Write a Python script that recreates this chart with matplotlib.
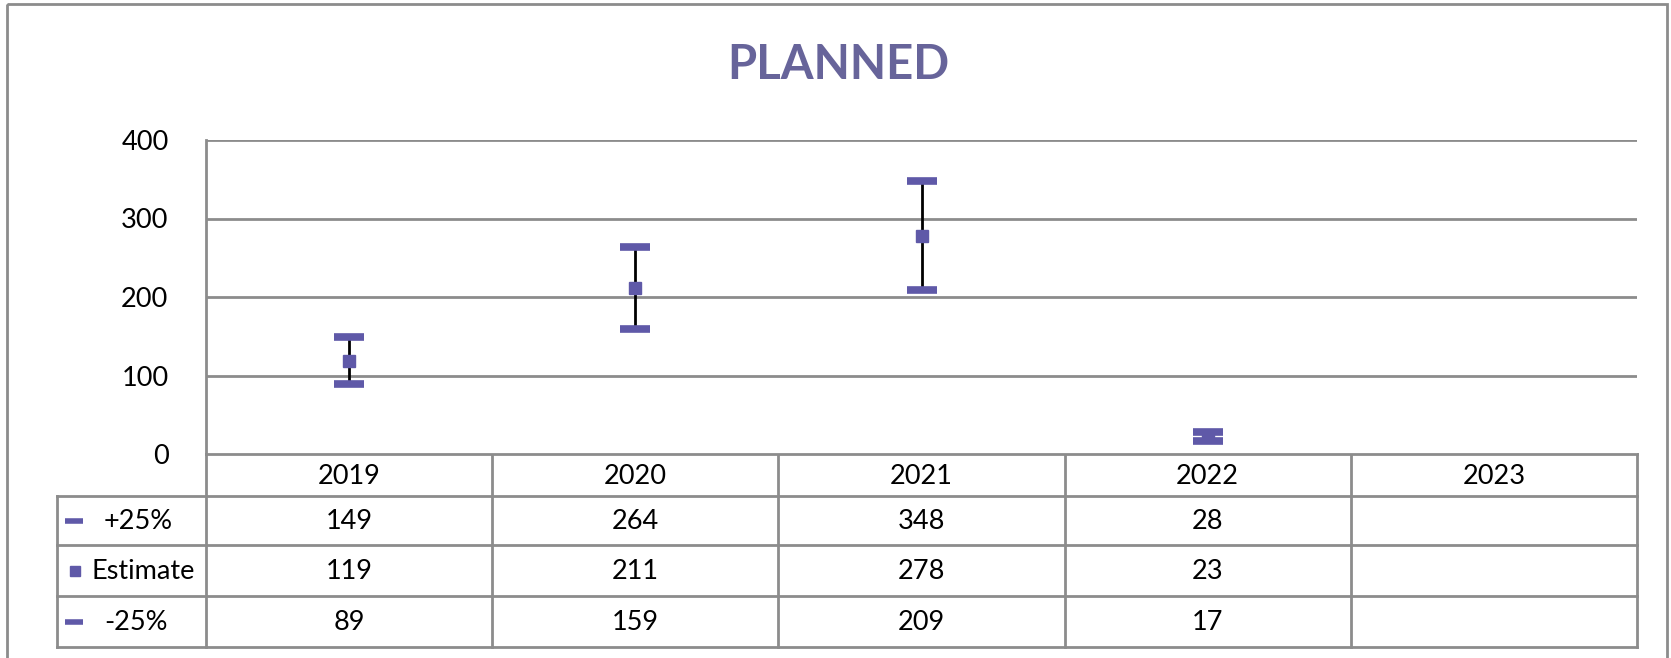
import numpy as np
import matplotlib
matplotlib.use("Agg")
import matplotlib.pyplot as plt
from matplotlib.lines import Line2D
from matplotlib.patches import Rectangle

plt.rcParams['font.family'] = ['Lato', 'DejaVu Sans']

# data
years = ["2019", "2020", "2021", "2022", "2023"]
upper = [149, 264, 348, 28, np.nan]
estimate = [119, 211, 278, 23, np.nan]
lower = [89, 159, 209, 17, np.nan]
row_names = ["+25%", "Estimate", "-25%"]
y_ticks = [0, 100, 200, 300, 400]

W, H = 1671, 658
purple = "#5F59A8"
title_col = "#67649A"
grid_col = "#8C8C8C"
fs = 19.5

fig = plt.figure(figsize=(W / 100, H / 100), dpi=100)

# pixel layout of the plot area
px_left, px_right, px_top, px_zero = 206, 1637, 140, 454
ax = fig.add_axes([px_left / W, 1 - px_zero / H,
                   (px_right - px_left) / W, (px_zero - px_top) / H])
x = np.arange(len(years))
ax.set_xlim(-0.5, len(years) - 0.5)
ax.set_ylim(0, 400)
ax.set_yticks(y_ticks)
ax.set_yticklabels([str(v) for v in y_ticks], fontsize=fs)
ax.tick_params(axis='y', length=0, pad=27)
ax.set_xticks([])
for s in ["top", "right", "bottom"]:
    ax.spines[s].set_visible(False)
ax.spines["left"].set_color(grid_col)
ax.spines["left"].set_linewidth(2)
ax.yaxis.grid(True, color=grid_col, linewidth=2)
ax.set_axisbelow(True)

up = np.array(upper, dtype=float)
lo = np.array(lower, dtype=float)
est = np.array(estimate, dtype=float)
ok = ~np.isnan(up)
ax.vlines(x[ok], lo[ok], up[ok], color="black", linewidth=2, zorder=3)
ax.plot(x, up, linestyle="none", marker="_", markersize=21,
        markeredgewidth=5.5, color=purple, zorder=4, clip_on=False)
ax.plot(x, lo, linestyle="none", marker="_", markersize=21,
        markeredgewidth=5.5, color=purple, zorder=4, clip_on=False)
ax.plot(x, est, linestyle="none", marker="s", markersize=8,
        color=purple, zorder=5, clip_on=False)

# overlay in pixel coordinates for the frame, title and data table
ov = fig.add_axes([0, 0, 1, 1], zorder=-1)
ov.set_xlim(0, W)
ov.set_ylim(H, 0)
ov.axis("off")
ov.add_patch(Rectangle((7, 4), 1660, 700, fill=False,
                       edgecolor=grid_col, linewidth=2))

ov.text(838, 65, "PLANNED", ha="center", va="center", fontsize=34,
        fontweight="bold", color=title_col)

tab_left = 57
row_edges = [454, 496, 545, 596, 647]
col_w = (px_right - px_left) / len(years)
col_edges = [px_left + i * col_w for i in range(len(years) + 1)]
lw = 2

# horizontal lines
ov.plot([px_left, px_right], [row_edges[0]] * 2, color=grid_col, lw=lw)
for yy in row_edges[1:]:
    ov.plot([tab_left, px_right], [yy, yy], color=grid_col, lw=lw)
# vertical lines
ov.plot([tab_left, tab_left], [row_edges[1], row_edges[-1]], color=grid_col, lw=lw)
for xx in col_edges:
    ov.plot([xx, xx], [row_edges[0], row_edges[-1]], color=grid_col, lw=lw)

for i, yr in enumerate(years):
    cx = col_edges[i] + col_w / 2
    ov.text(cx, (row_edges[0] + row_edges[1]) / 2 + 1, yr, ha="center",
            va="center", fontsize=fs)
    for r, series in enumerate([upper, estimate, lower]):
        v = series[i]
        if not np.isnan(v):
            ov.text(cx, (row_edges[r + 1] + row_edges[r + 2]) / 2 + 1,
                    str(int(v)), ha="center", va="center", fontsize=fs)

# row headers with legend keys
key_x = [74, 75, 74]
text_x = [104, 91, 104]
markers = ["_", "s", "_"]
for r, name in enumerate(row_names):
    cy = (row_edges[r + 1] + row_edges[r + 2]) / 2
    if markers[r] == "_":
        ov.add_line(Line2D([key_x[r]], [cy], marker="_", markersize=13,
                           markeredgewidth=4, color=purple))
    else:
        ov.add_line(Line2D([key_x[r]], [cy], marker="s", markersize=7,
                           color=purple))
    ov.text(text_x[r], cy + 1, name, ha="left", va="center", fontsize=fs)

fig.savefig("out.png", dpi=100)
